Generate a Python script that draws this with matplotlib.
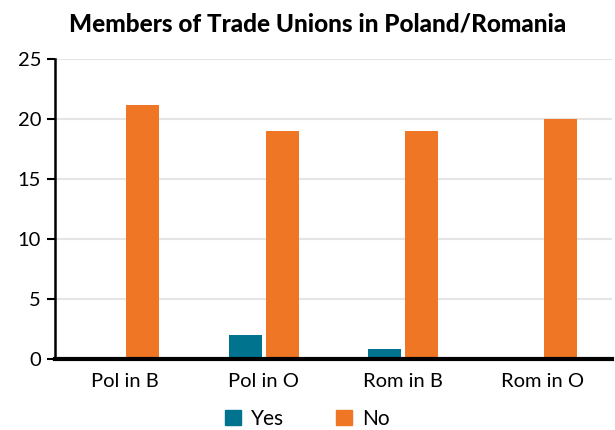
import matplotlib
matplotlib.use("Agg")
import matplotlib.pyplot as plt
import numpy as np
from matplotlib.patches import Patch

categories = ["Pol in B", "Pol in O", "Rom in B", "Rom in O"]
yes_values = [0, 2, 0.85, 0]
no_values = [21.2, 19, 19, 20]
series_names = ["Yes", "No"]
colors = ["#00738f", "#ee7625"]

plt.rcParams['font.family'] = ['Lato', 'DejaVu Sans']

fig = plt.figure(figsize=(6.15, 4.3), dpi=100)
ax = fig.add_axes([55/615, 71/430, (612-55)/615, (359-59)/430])

x = np.arange(len(categories))
w = 0.237
gap = 0.025
ax.bar(x - (w+gap)/2, yes_values, width=w, color=colors[0], zorder=3)
ax.bar(x + (w+gap)/2, no_values, width=w, color=colors[1], zorder=3)

ax.set_xlim(-0.5, 3.5)
ax.set_ylim(0, 25)
ax.set_yticks([0, 5, 10, 15, 20, 25])
ax.set_xticks(x)
ax.set_xticklabels(categories, fontsize=14.5)
ax.tick_params(axis='y', labelsize=14.5, length=6, width=1.5, direction='out', pad=4)
ax.tick_params(axis='x', length=0, pad=10)
ax.yaxis.grid(True, color="#e5e5e5", linewidth=1.5, zorder=0)
ax.set_axisbelow(True)
for s in ["top", "right"]:
    ax.spines[s].set_visible(False)
ax.spines["left"].set_linewidth(1.8)
ax.spines["bottom"].set_linewidth(3)
ax.spines["bottom"].set_zorder(4)

fig.text(318/615, 1 - 24/430, "Members of Trade Unions in Poland/Romania", ha="center", va="center",
         fontsize=17.5, fontweight=900)

handles = [Patch(color=colors[0]), Patch(color=colors[1])]
fig.legend(handles, series_names, loc="center", bbox_to_anchor=(0.5, 1 - 419/430), ncol=2,
           frameon=False, fontsize=15, handlelength=0.75, handleheight=0.75, columnspacing=2.5,
           handletextpad=0.5)

fig.savefig("out.png", dpi=100)
